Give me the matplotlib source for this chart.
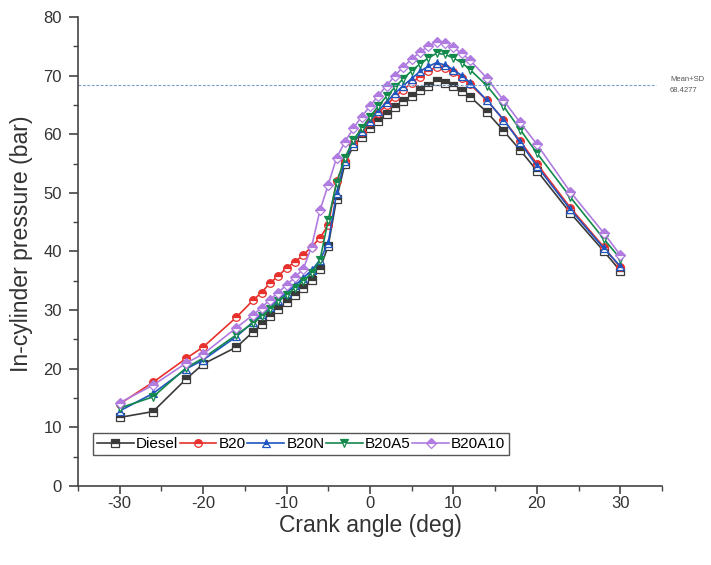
import numpy as np
import matplotlib
matplotlib.use("Agg")
import matplotlib.pyplot as plt
from matplotlib.ticker import MultipleLocator

plt.rcParams['font.family'] = ['Liberation Sans', 'DejaVu Sans']
plt.rcParams['axes.unicode_minus'] = False

# crank angle grid (deg)
crank = [-30, -26, -22, -20, -16, -14, -13, -12, -11, -10, -9, -8, -7, -6, -5, -4,
         -3, -2, -1, 0, 1, 2, 3, 4, 5, 6, 7, 8, 9, 10, 11, 12, 14, 16, 18, 20, 24, 28, 30]

# in-cylinder pressure (bar)
diesel = [11.7, 12.7, 18.3, 20.8, 23.7, 26.3, 27.6, 29.0, 30.2, 31.3, 32.5, 33.8, 35.2, 37.0, 41.0, 49.0,
          55.0, 58.0, 59.5, 61.0, 62.3, 63.5, 64.6, 65.6, 66.6, 67.5, 68.3, 69.0, 68.8, 68.2, 67.4, 66.4,
          63.8, 60.6, 57.3, 53.8, 46.6, 40.1, 36.7]
b20 = [14.0, 17.7, 21.8, 23.7, 28.8, 31.7, 33.0, 34.6, 35.8, 37.2, 38.2, 39.4, 40.8, 42.3, 44.5, 52.0,
       55.5, 58.5, 60.3, 62.0, 63.6, 65.0, 66.4, 67.6, 68.8, 69.8, 70.8, 71.5, 71.3, 70.6, 69.6, 68.5,
       65.8, 62.5, 58.8, 55.0, 47.5, 40.8, 37.3]
b20n = [12.8, 15.8, 20.0, 21.5, 25.5, 28.0, 29.3, 30.6, 31.8, 33.0, 34.2, 35.5, 36.8, 38.5, 41.5, 50.0,
        55.5, 58.5, 60.5, 62.3, 64.0, 65.5, 67.0, 68.3, 69.5, 70.7, 71.6, 72.2, 71.8, 71.0, 70.0, 68.8,
        65.8, 62.5, 58.6, 54.6, 47.2, 40.6, 37.5]
b20a5 = [13.3, 15.2, 20.2, 21.8, 25.8, 27.8, 29.0, 30.2, 31.5, 32.6, 33.8, 35.0, 36.3, 38.5, 45.4, 51.7,
         56.0, 59.0, 61.0, 63.0, 64.8, 66.5, 68.0, 69.5, 70.8, 72.0, 73.0, 73.8, 73.6, 73.0, 72.2, 71.0,
         68.3, 64.8, 60.8, 56.8, 49.3, 42.2, 38.8]
b20a10 = [14.2, 17.2, 21.0, 22.5, 27.0, 29.2, 30.4, 31.8, 33.0, 34.3, 35.6, 37.0, 40.8, 47.0, 51.4, 56.0,
          58.7, 61.0, 63.0, 64.8, 66.6, 68.3, 70.0, 71.5, 72.8, 74.0, 75.0, 75.8, 75.5, 74.8, 73.8, 72.6,
          69.6, 65.8, 62.0, 58.3, 50.2, 43.2, 39.4]

mean_sd = 68.4277

series = [
    ("Diesel", diesel, "#3a3a3a", "s"),
    ("B20", b20, "#e8302c", "o"),
    ("B20N", b20n, "#1f55c0", "^"),
    ("B20A5", b20a5, "#13894d", "v"),
    ("B20A10", b20a10, "#b07ce0", "D"),
]

fig = plt.figure(figsize=(7.11, 5.65), dpi=100)
ax = fig.add_axes([0.1097, 0.1398, 0.8213, 0.8302])

for name, vals, col, mk in series:
    ax.plot(crank, vals, color=col, lw=1.2, marker=mk, markersize=5.5 if mk != "D" else 5,
            fillstyle='top', markerfacecolor=col, markerfacecoloralt='white',
            markeredgecolor=col, markeredgewidth=0.9, label=name)

ax.hlines(mean_sd, -35, 34.3, colors="#7a9cc8", linestyles=(0, (2.5, 1.5)), lw=0.8)
fig.text(670 / 711, 1 - 85 / 565, "Mean+SD\n68.4277", fontsize=5.5, color="#555555",
         va="center", ha="left", linespacing=1.8)

ax.set_xlim(-35, 35)
ax.set_ylim(0, 80)
ax.xaxis.set_major_locator(MultipleLocator(10))
ax.xaxis.set_minor_locator(MultipleLocator(5))
ax.yaxis.set_major_locator(MultipleLocator(10))
ax.yaxis.set_minor_locator(MultipleLocator(5))
ax.spines['top'].set_visible(False)
ax.spines['right'].set_visible(False)
for s in ('left', 'bottom'):
    ax.spines[s].set_color("#444444")
    ax.spines[s].set_linewidth(1.2)
ax.tick_params(which='major', length=6.5, width=1.2, color="#444444", labelsize=12, labelcolor="#333333")
ax.tick_params(which='minor', length=3.5, width=1.0, color="#444444")
ax.tick_params(axis='y', which='major', pad=5)
ax.tick_params(axis='x', which='major', pad=1, length=6)

ax.set_xlabel("Crank angle (deg)", fontsize=16.5, color="#333333")
ax.set_ylabel("In-cylinder pressure (bar)", fontsize=16.6, color="#333333")
ax.xaxis.set_label_coords(0.5, -0.084)
ax.yaxis.set_label_coords(-0.096, 0.516)
ax.xaxis.label.set_va('center')
ax.yaxis.label.set_va('center')

leg = ax.legend(loc='lower left', bbox_to_anchor=(0.026, 0.066), borderaxespad=0, ncol=5,
                fontsize=11, handlelength=2.4, handletextpad=0.15, columnspacing=0.1,
                borderpad=0.25, fancybox=False, framealpha=1)
leg.get_frame().set_edgecolor("#555555")
leg.get_frame().set_linewidth(1.0)

fig.savefig("out.png", dpi=100)
